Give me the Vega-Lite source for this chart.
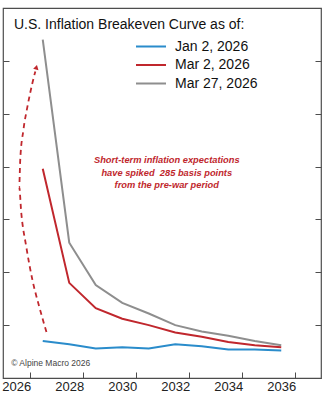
{
  "$schema": "https://vega.github.io/schema/vega-lite/v6.json",
  "width": 318,
  "height": 370,
  "autosize": {"type": "none"},
  "padding": {"left": 3, "top": 8, "right": 3, "bottom": 22},
  "background": "white",
  "title": {
    "text": "U.S. Inflation Breakeven Curve as of:",
    "anchor": "start",
    "frame": "group",
    "orient": "top",
    "baseline": "alphabetic",
    "offset": -19.5,
    "dx": 11,
    "dy": 15.5,
    "font": "Liberation Sans",
    "fontSize": 14,
    "fontWeight": "normal",
    "color": "#111111"
  },
  "datasets": {
    "curves": [
      {"series": "Jan 2, 2026", "year": 2027, "rate": 2.35},
      {"series": "Jan 2, 2026", "year": 2028, "rate": 2.32},
      {"series": "Jan 2, 2026", "year": 2029, "rate": 2.28},
      {"series": "Jan 2, 2026", "year": 2030, "rate": 2.29},
      {"series": "Jan 2, 2026", "year": 2031, "rate": 2.28},
      {"series": "Jan 2, 2026", "year": 2032, "rate": 2.32},
      {"series": "Jan 2, 2026", "year": 2033, "rate": 2.30},
      {"series": "Jan 2, 2026", "year": 2034, "rate": 2.27},
      {"series": "Jan 2, 2026", "year": 2035, "rate": 2.27},
      {"series": "Jan 2, 2026", "year": 2036, "rate": 2.26},
      {"series": "Mar 2, 2026", "year": 2027, "rate": 3.98},
      {"series": "Mar 2, 2026", "year": 2028, "rate": 2.90},
      {"series": "Mar 2, 2026", "year": 2029, "rate": 2.66},
      {"series": "Mar 2, 2026", "year": 2030, "rate": 2.56},
      {"series": "Mar 2, 2026", "year": 2031, "rate": 2.50},
      {"series": "Mar 2, 2026", "year": 2032, "rate": 2.43},
      {"series": "Mar 2, 2026", "year": 2033, "rate": 2.39},
      {"series": "Mar 2, 2026", "year": 2034, "rate": 2.34},
      {"series": "Mar 2, 2026", "year": 2035, "rate": 2.31},
      {"series": "Mar 2, 2026", "year": 2036, "rate": 2.29},
      {"series": "Mar 27, 2026", "year": 2027, "rate": 5.20},
      {"series": "Mar 27, 2026", "year": 2028, "rate": 3.28},
      {"series": "Mar 27, 2026", "year": 2029, "rate": 2.88},
      {"series": "Mar 27, 2026", "year": 2030, "rate": 2.71},
      {"series": "Mar 27, 2026", "year": 2031, "rate": 2.61},
      {"series": "Mar 27, 2026", "year": 2032, "rate": 2.50},
      {"series": "Mar 27, 2026", "year": 2033, "rate": 2.44},
      {"series": "Mar 27, 2026", "year": 2034, "rate": 2.40},
      {"series": "Mar 27, 2026", "year": 2035, "rate": 2.35},
      {"series": "Mar 27, 2026", "year": 2036, "rate": 2.31}
    ],
    "arrow": [
      {"i": 1, "year": 2027.14, "rate": 2.435},
      {"i": 2, "year": 2026.87, "rate": 2.672},
      {"i": 3, "year": 2026.61, "rate": 2.928},
      {"i": 4, "year": 2026.38, "rate": 3.239},
      {"i": 5, "year": 2026.19, "rate": 3.561},
      {"i": 6, "year": 2026.11, "rate": 3.807},
      {"i": 7, "year": 2026.15, "rate": 4.062},
      {"i": 8, "year": 2026.27, "rate": 4.346},
      {"i": 9, "year": 2026.42, "rate": 4.564},
      {"i": 10, "year": 2026.61, "rate": 4.791},
      {"i": 11, "year": 2026.72, "rate": 4.90}
    ],
    "tip": [{"year": 2026.76, "rate": 4.94}],
    "note": [{"year": 2031.68, "rate": 4.06, "label": "Short-term inflation expectations\nhave spiked\u00a0 285 basis points\nfrom the pre-war period"}],
    "credit": [{"year": 2025.81, "rate": 2.14, "label": "© Alpine Macro 2026"}]
  },
  "layer": [
    {
      "data": {"name": "curves"},
      "mark": {"type": "line", "strokeWidth": 2},
      "encoding": {
        "x": {"field": "year", "type": "quantitative", "scale": {"domain": [2025.5, 2037.5], "nice": false, "zero": false}, "axis": {"title": null}},
        "y": {"field": "rate", "type": "quantitative", "scale": {"domain": [2, 5.5], "nice": false, "zero": false}, "axis": {"title": null, "orient": "left"}},
        "color": {
          "field": "series",
          "type": "nominal",
          "sort": ["Jan 2, 2026", "Mar 2, 2026", "Mar 27, 2026"],
          "scale": {"domain": ["Jan 2, 2026", "Mar 2, 2026", "Mar 27, 2026"], "range": ["#2a8ccb", "#c0272d", "#8e8e8e"]},
          "legend": {
            "title": null,
            "orient": "none",
            "legendX": 132,
            "legendY": 29.5,
            "symbolType": "stroke",
            "symbolSize": 900,
            "symbolStrokeWidth": 2,
            "clipHeight": 18,
            "labelFont": "Liberation Sans",
            "labelFontSize": 14,
            "labelColor": "#111111",
            "labelOffset": 8,
            "rowPadding": 0.5,
            "padding": 0
          }
        }
      }
    },
    {
      "data": {"name": "arrow"},
      "mark": {"type": "line", "color": "#c0272d", "strokeWidth": 1.8, "strokeDash": [5, 4], "interpolate": "monotone"},
      "encoding": {
        "x": {"field": "year", "type": "quantitative", "axis": {"title": null}},
        "y": {"field": "rate", "type": "quantitative", "axis": null},
        "order": {"field": "i"}
      }
    },
    {
      "data": {"name": "tip"},
      "mark": {"type": "point", "shape": "triangle-up", "filled": true, "color": "#c0272d", "size": 30, "angle": 14, "opacity": 1},
      "encoding": {
        "x": {"field": "year", "type": "quantitative", "axis": {"title": null}},
        "y": {"field": "rate", "type": "quantitative", "axis": null}
      }
    },
    {
      "data": {"name": "note"},
      "mark": {"type": "text", "align": "center", "baseline": "middle", "lineBreak": "\n", "lineHeight": 12.5, "font": "Liberation Sans", "fontSize": 9.3, "fontWeight": "bold", "fontStyle": "italic", "color": "#c0272d"},
      "encoding": {
        "x": {"field": "year", "type": "quantitative", "axis": {"title": null}},
        "y": {"field": "rate", "type": "quantitative", "axis": null},
        "text": {"field": "label"}
      }
    },
    {
      "data": {"name": "credit"},
      "mark": {"type": "text", "align": "left", "baseline": "middle", "font": "Liberation Sans", "fontSize": 8.5, "color": "#444444"},
      "encoding": {
        "x": {"field": "year", "type": "quantitative", "axis": {"title": null}},
        "y": {"field": "rate", "type": "quantitative", "axis": {"title": null, "orient": "right"}},
        "text": {"field": "label"}
      }
    }
  ],
  "resolve": {"axis": {"y": "independent"}},
  "config": {
    "view": {"stroke": "#4d4d4d", "strokeWidth": 1.2},
    "axisX": {
      "values": [2026, 2027, 2028, 2029, 2030, 2031, 2032, 2033, 2034, 2035, 2036],
      "tickOffset": 13.25,
      "labelOffset": -13.25,
      "labelExpr": "datum.value % 2 == 0 ? format(datum.value, 'd') : ''",
      "tickSize": -6,
      "tickColor": "#4d4d4d",
      "domain": false,
      "grid": false,
      "labelFont": "Liberation Sans",
      "labelFontSize": 13,
      "labelColor": "#222222",
      "labelPadding": 8,
      "labelFlush": false,
      "labelOverlap": false
    },
    "axisY": {
      "values": [2.5, 3, 3.5, 4, 4.5, 5],
      "labels": false,
      "tickSize": -6,
      "tickColor": "#4d4d4d",
      "domain": false,
      "grid": false
    }
  }
}
